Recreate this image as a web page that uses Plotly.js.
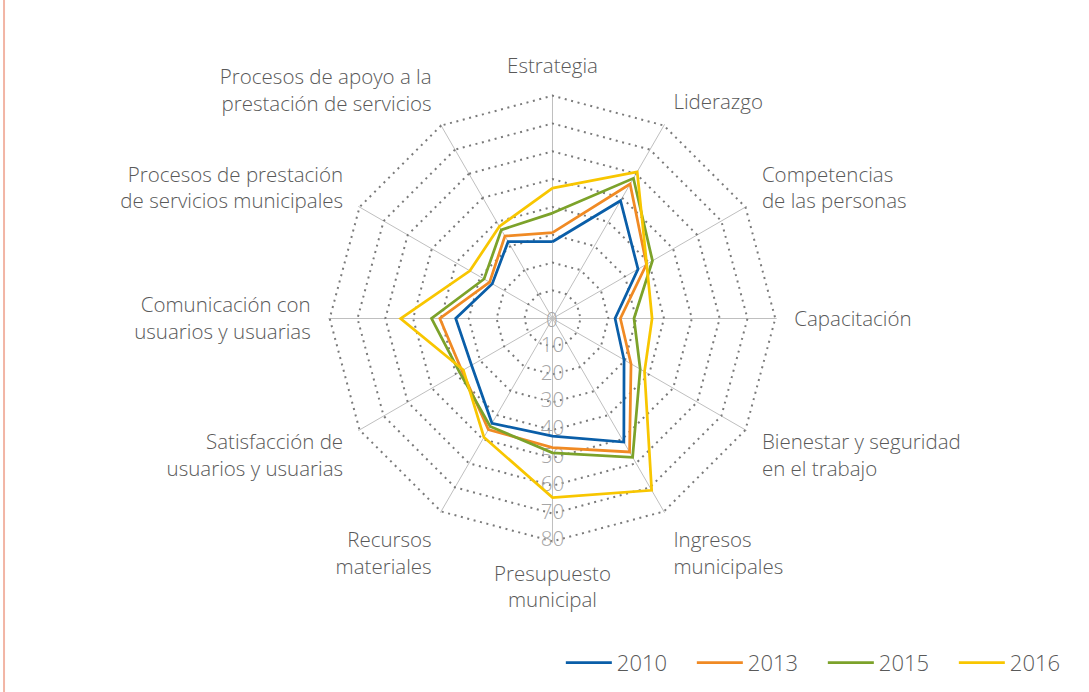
<!DOCTYPE html>
<html>
<head>
<meta charset="utf-8">
<script src="https://cdn.plot.ly/plotly-3.0.1.min.js"></script>
<style>
  html, body { margin: 0; padding: 0; background: #ffffff; }
  #chart { width: 1089px; height: 692px; }
</style>
</head>
<body>
<div id="chart"></div>
<script>
// Categories, clockwise from the top
const categories = [
  "Estrategia",
  "Liderazgo",
  "Competencias<br>de las personas",
  "Capacitación",
  "Bienestar y seguridad<br>en el trabajo",
  "Ingresos<br>municipales",
  "Presupuesto<br>municipal",
  "Recursos<br>materiales",
  "Satisfacción de<br>usuarios y usuarias",
  "Comunicación con<br>usuarios y usuarias",
  "Procesos de prestación<br>de servicios municipales",
  "Procesos de apoyo a la<br>prestación de servicios"
];

const values2010 = [27.5, 48.8, 35.4, 22.4, 29.6, 51.2, 42.2, 43.4, 33.5, 34.7, 24.9, 31.8];
const values2013 = [30.8, 55.7, 38.9, 24.3, 32.5, 55.3, 46.3, 46.0, 37.5, 40.4, 26.0, 34.1];
const values2015 = [37.8, 58.1, 41.4, 29.2, 36.3, 57.5, 48.2, 44.7, 38.5, 43.4, 28.3, 36.7];
const values2016 = [46.8, 60.8, 39.0, 35.7, 38.1, 71.2, 64.3, 49.2, 36.9, 54.5, 34.2, 38.1];

const seriesNames = ["2010", "2013", "2015", "2016"];
const seriesColors = ["#0A5EA8", "#F08A24", "#7CA22A", "#F8C600"];

const radialTicks = [0, 10, 20, 30, 40, 50, 60, 70, 80];
const radialTickLabels = ["0", "10", "20", "30", "40", "50", "60", "70", "80"];
const radialLabelCategory = "Presupuesto<br>municipal";

const allValues = [values2010, values2013, values2015, values2016];

const FONT = "Open Sans, sans-serif";
const radialLabelFont = { family: FONT, size: 20.5, color: "#A6A6A6", weight: 300 };
const polarDomain = { x: [0.30147, 0.71322], y: [0.21575, 0.86372] };
const traces = [];

// radial tick labels (10..80) drawn under the series
traces.push({
  type: "scatterpolar",
  mode: "text",
  r: radialTicks.slice(1),
  theta: radialTicks.slice(1).map(() => radialLabelCategory),
  text: radialTickLabels.slice(1),
  textposition: "middle center",
  textfont: radialLabelFont,
  cliponaxis: false,
  showlegend: false,
  hoverinfo: "skip"
});

allValues.forEach((vals, i) => {
  traces.push({
    type: "scatterpolar",
    mode: "lines",
    name: seriesNames[i],
    r: vals.concat([vals[0]]),
    theta: categories.concat([categories[0]]),
    line: { color: seriesColors[i], width: 2.75 },
    cliponaxis: false
  });
});

const layout = {
  width: 1089,
  height: 692,
  margin: { l: 0, r: 0, t: 0, b: 0, autoexpand: false },
  paper_bgcolor: "#ffffff",
  plot_bgcolor: "#ffffff",
  font: { family: FONT, color: "#595959", weight: 300 },
  showlegend: true,
  legend: {
    orientation: "h",
    x: 0.515,
    xanchor: "left",
    y: 0.042,
    yanchor: "middle",
    font: { size: 22, color: "#595959", family: FONT, weight: 300 },
    itemwidth: 46,
    entrywidth: 70,
    entrywidthmode: "pixels",
    traceorder: "normal",
    bgcolor: "rgba(0,0,0,0)"
  },
  polar: {
    domain: polarDomain,
    gridshape: "linear",
    bgcolor: "#ffffff",
    angularaxis: {
      type: "category",
      categoryorder: "array",
      categoryarray: categories,
      direction: "clockwise",
      rotation: 90,
      showline: false,
      gridcolor: "#BFBFBF",
      gridwidth: 1,
      ticks: "outside",
      ticklen: 13,
      tickcolor: "rgba(0,0,0,0)",
      tickfont: { size: 20.5, color: "#595959", family: FONT, weight: 300 }
    },
    radialaxis: {
      range: [-0.1, 80.5],
      tickvals: radialTicks,
      showticklabels: false,
      showline: false,
      ticks: "",
      gridcolor: "#7A7A7A",
      gridwidth: 2,
      griddash: "2px,4.6px",
      angle: -90
    }
  },
  // centre tick label ("0") placed at the middle of the polar domain
  annotations: [{
    xref: "paper", yref: "paper",
    x: (polarDomain.x[0] + polarDomain.x[1]) / 2,
    y: (polarDomain.y[0] + polarDomain.y[1]) / 2,
    xanchor: "center", yanchor: "middle",
    text: radialTickLabels[0],
    showarrow: false,
    font: radialLabelFont
  }],
  shapes: [{
    type: "line",
    xref: "paper", yref: "paper",
    x0: 0.0037, x1: 0.0037, y0: 0, y1: 1,
    line: { color: "#F2B5A5", width: 2 }
  }]
};

Plotly.newPlot("chart", traces, layout, { displayModeBar: false, staticPlot: true });
</script>
</body>
</html>
